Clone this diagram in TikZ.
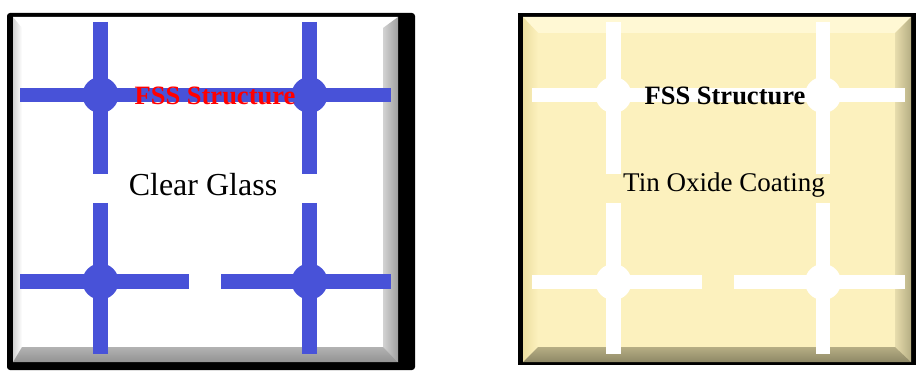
\documentclass[tikz,border=0pt]{standalone}
\usepackage{fontspec}
\setmainfont{Liberation Serif}
\usepackage{tikz}
\usetikzlibrary{positioning}
\usepackage{xcolor}

\definecolor{fssblue}{RGB}{72,82,216}
\definecolor{tinyellow}{RGB}{252,241,190}
\definecolor{tintop}{RGB}{255,248,212}
\definecolor{tinleft}{RGB}{236,222,160}
\definecolor{tinright}{RGB}{182,174,132}
\definecolor{tinbottom}{RGB}{142,136,102}

\begin{document}
\begin{tikzpicture}[x=1pt,y=-1pt,
    bar/.style={line width=14.5pt},
    joint/.style={circle, inner sep=0pt, minimum size=36pt},
    title/.style={font=\fontsize{26.5}{30}\selectfont\bfseries},
    label/.style={font=\fontsize{32}{36}\selectfont}]
    \useasboundingbox (0,0) rectangle (918,374);

    % Clear glass panel
    \fill[black, rounded corners=3pt] (7,13) rectangle (415,370);
    \fill[white] (13,17) rectangle (398,362);
    \fill[white] (13,17) -- (398,17) -- (383,28) -- (22,28) -- cycle;
    \shade[left color=gray!35, right color=white] (13,17) -- (22,28) -- (22,347) -- (13,362) -- cycle;
    \shade[left color=gray!35, right color=gray!75] (398,17) -- (383,28) -- (383,347) -- (398,362) -- cycle;
    \shade[top color=gray!60, bottom color=gray!85] (13,362) -- (22,347) -- (383,347) -- (398,362) -- cycle;

    % FSS structure on glass
    \draw[bar, fssblue] (20,95) -- (391,95);
    \draw[bar, fssblue] (20,281.5) -- (189,281.5);
    \draw[bar, fssblue] (221,281.5) -- (391,281.5);
    \draw[bar, fssblue] (100.5,22) -- (100.5,174);
    \draw[bar, fssblue] (100.5,203) -- (100.5,354);
    \draw[bar, fssblue] (309.5,22) -- (309.5,174);
    \draw[bar, fssblue] (309.5,203) -- (309.5,354);
    \node[joint, fill=fssblue] (g11) at (100.5,95) {};
    \node[joint, fill=fssblue] (g12) at (309.5,95) {};
    \node[joint, fill=fssblue] (g21) at (100.5,281.5) {};
    \node[joint, fill=fssblue] (g22) at (309.5,281.5) {};

    \node[title, red] (gtitle) at (215,96) {FSS Structure};
    \node[label] (glass) at (203,185) {Clear Glass};

    % Tin oxide panel
    \fill[black] (518,13) rectangle (916,365);
    \fill[tinyellow] (523,17) rectangle (911,362);
    \fill[tintop] (523,17) -- (911,17) -- (895,33) -- (538,33) -- cycle;
    \shade[left color=tinleft, right color=tinyellow] (523,17) -- (538,33) -- (538,347) -- (523,362) -- cycle;
    \shade[left color=tinyellow!70!tinright, right color=tinright] (911,17) -- (895,33) -- (895,347) -- (911,362) -- cycle;
    \shade[top color=tinright, bottom color=tinbottom] (523,362) -- (538,347) -- (895,347) -- (911,362) -- cycle;

    % FSS structure cut out of the coating
    \draw[bar, white] (532,95) -- (905,95);
    \draw[bar, white] (532,282) -- (702,282);
    \draw[bar, white] (734,282) -- (905,282);
    \draw[bar, white] (613.5,22) -- (613.5,174);
    \draw[bar, white] (613.5,203) -- (613.5,354);
    \draw[bar, white] (823,22) -- (823,174);
    \draw[bar, white] (823,203) -- (823,354);
    \node[joint, fill=white] (t11) at (613.5,95) {};
    \node[joint, fill=white] (t12) at (823,95) {};
    \node[joint, fill=white] (t21) at (613.5,282) {};
    \node[joint, fill=white] (t22) at (823,282) {};

    \node[title] (ttitle) at (725,96) {FSS Structure};
    \node[label, font=\fontsize{27}{30}\selectfont] (coat) at (724,185) {Tin Oxide Coating};
\end{tikzpicture}
\end{document}
